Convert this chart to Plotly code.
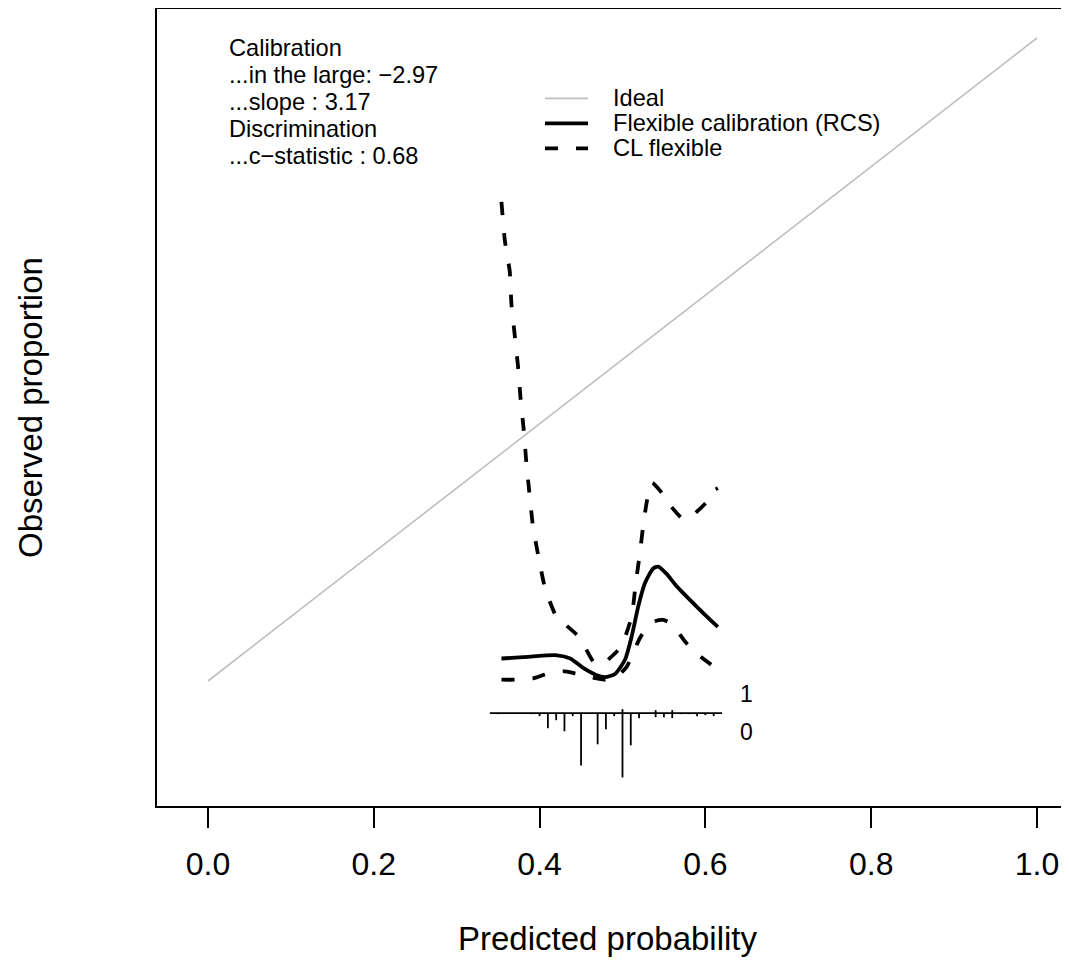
import plotly.graph_objects as go

# ---------------- data ----------------
ideal_x = [0.0, 1.0]
ideal_y = [0.0, 1.0]

rcs_x = [0.354, 0.380, 0.421, 0.437, 0.453, 0.469, 0.479, 0.491, 0.503, 0.511,
         0.519, 0.527, 0.537, 0.543, 0.553, 0.563, 0.573, 0.594, 0.615]
rcs_y = [0.035, 0.037, 0.040, 0.035, 0.020, 0.009, 0.006, 0.011, 0.033, 0.069,
         0.116, 0.152, 0.175, 0.178, 0.167, 0.151, 0.137, 0.110, 0.084]

cl_upper_x = [0.354, 0.358, 0.364, 0.366, 0.370, 0.374, 0.377, 0.381, 0.384, 0.388,
              0.392, 0.399, 0.407, 0.421, 0.427, 0.448, 0.465, 0.475, 0.498, 0.511,
              0.516, 0.521, 0.526, 0.532, 0.536, 0.551, 0.557, 0.573, 0.583, 0.602,
              0.610, 0.615]
cl_upper_y = [0.745, 0.686, 0.637, 0.587, 0.538, 0.489, 0.440, 0.389, 0.340, 0.289,
              0.240, 0.191, 0.142, 0.098, 0.092, 0.068, 0.030, 0.026, 0.053, 0.100,
              0.152, 0.199, 0.252, 0.297, 0.308, 0.287, 0.274, 0.252, 0.256, 0.279,
              0.296, 0.300]

cl_lower_x = [0.354, 0.370, 0.392, 0.409, 0.431, 0.445, 0.469, 0.479, 0.493, 0.505,
              0.522, 0.537, 0.549, 0.559, 0.577, 0.594, 0.615]
cl_lower_y = [0.002, 0.002, 0.004, 0.011, 0.015, 0.011, 0.004, 0.002, 0.007, 0.022,
              0.069, 0.092, 0.095, 0.089, 0.059, 0.038, 0.018]

# spike histogram of predicted probabilities (counts per 0.01 bin)
bin_x = [0.35, 0.39, 0.40, 0.41, 0.42, 0.43, 0.44, 0.45, 0.47, 0.48, 0.49,
         0.50, 0.51, 0.52, 0.54, 0.55, 0.56, 0.57, 0.58, 0.59, 0.60, 0.61]
n_y0 = [1, 1, 3, 15, 7, 18, 3, 52, 31, 16, 3, 64, 32, 5, 4, 4, 5, 1, 1, 3, 2, 3]
n_y1 = [0, 0, 0, 0, 0, 0, 0, 0, 0, 0, 0, 4, 0, 0, 3, 0, 3, 0, 0, 0, 0, 0]

x_ticks = [0.0, 0.2, 0.4, 0.6, 0.8, 1.0]
x_ticktext = ["0.0", "0.2", "0.4", "0.6", "0.8", "1.0"]

stats_lines = ["Calibration", "...in the large: \u22122.97", "...slope : 3.17",
               "Discrimination", "...c\u2212statistic : 0.68"]
legend_labels = ["Ideal", "Flexible calibration (RCS)", "CL flexible"]

line_bins = -0.05
hist_max = 0.1

# ---------------- figure ----------------
OFF = 8  # default page body margin
W, H = 1069 - OFF, 960 - OFF
ML, MR, MT, MB = 157 - OFF, 0, 9 - OFF, 154
PW, PH = W - ML - MR, H - MT - MB
FONT = "Liberation Sans, Arial, Helvetica, sans-serif"
DASH = "13px,18px"
LW = 3.8


def px_x(p):
    return (p - OFF - ML) / PW


def px_y(p):
    return (H - MB - (p - OFF)) / PH


fig = go.Figure()

fig.add_trace(go.Scatter(x=ideal_x, y=ideal_y, mode="lines",
                         line=dict(color="#BEBEBE", width=1.6), showlegend=False))
fig.add_trace(go.Scatter(x=rcs_x, y=rcs_y, mode="lines",
                         line=dict(color="black", width=LW, shape="spline", smoothing=0.6),
                         showlegend=False))
fig.add_trace(go.Scatter(x=cl_upper_x, y=cl_upper_y, mode="lines",
                         line=dict(color="black", width=LW, dash=DASH, shape="spline", smoothing=0.5),
                         showlegend=False))
fig.add_trace(go.Scatter(x=cl_lower_x, y=cl_lower_y, mode="lines",
                         line=dict(color="black", width=LW, dash=DASH, shape="spline", smoothing=0.6),
                         showlegend=False))

# spike histogram
maxf = max(max(n_y0), max(n_y1))
hx, hy = [], []
for b, c in zip(bin_x, n_y0):
    if c > 0:
        hx += [b, b, None]
        hy += [line_bins, line_bins - hist_max * c / maxf, None]
for b, c in zip(bin_x, n_y1):
    if c > 0:
        hx += [b, b, None]
        hy += [line_bins, line_bins + hist_max * c / maxf, None]
fig.add_trace(go.Scatter(x=hx, y=hy, mode="lines", line=dict(color="black", width=1.8),
                         showlegend=False))
fig.add_trace(go.Scatter(x=[min(bin_x) - 0.01, max(bin_x) + 0.01], y=[line_bins, line_bins],
                         mode="lines", line=dict(color="black", width=1.8), showlegend=False))

annotations = []
annotations.append(dict(x=max(bin_x) + 0.04, y=line_bins + 0.03, xref="x", yref="y",
                        text="1", showarrow=False, font=dict(size=23, color="black", family=FONT)))
annotations.append(dict(x=max(bin_x) + 0.04, y=line_bins - 0.03, xref="x", yref="y",
                        text="0", showarrow=False, font=dict(size=23, color="black", family=FONT)))

# statistics text
for i, t in enumerate(stats_lines):
    annotations.append(dict(x=px_x(227), y=px_y(48.4 + 26.9 * i), xref="paper", yref="paper",
                            text=t, showarrow=False, xanchor="left", yanchor="middle",
                            font=dict(size=23.6, color="black", family=FONT)))

# legend
shapes = []
leg_styles = [dict(color="#BEBEBE", width=1.6), dict(color="black", width=LW),
              dict(color="black", width=LW, dash=DASH)]
for i, (lab, st) in enumerate(zip(legend_labels, leg_styles)):
    yy = px_y(98.4 + 25 * i)
    shapes.append(dict(type="line", xref="paper", yref="paper", x0=px_x(545), x1=px_x(588),
                       y0=yy, y1=yy, line=st))
    annotations.append(dict(x=px_x(611), y=yy, xref="paper", yref="paper", text=lab,
                            showarrow=False, xanchor="left", yanchor="middle",
                            font=dict(size=23.6, color="black", family=FONT)))

# axis titles
annotations.append(dict(x=px_x(607), y=px_y(938), xref="paper", yref="paper",
                        text="Predicted probability", showarrow=False,
                        xanchor="center", yanchor="middle",
                        font=dict(size=33, color="black", family=FONT)))
annotations.append(dict(x=px_x(30), y=px_y(408), xref="paper", yref="paper",
                        text="Observed proportion", showarrow=False, textangle=-90,
                        xanchor="center", yanchor="middle",
                        font=dict(size=33, color="black", family=FONT)))

fig.update_layout(
    width=W, height=H,
    margin=dict(l=ML, r=MR, t=MT, b=MB, pad=0),
    paper_bgcolor="white", plot_bgcolor="white",
    showlegend=False,
    font=dict(family=FONT, color="black"),
    annotations=annotations,
    shapes=shapes,
    xaxis=dict(range=[-0.0615, 1.0386], showgrid=False, zeroline=False,
               showline=True, linecolor="black", linewidth=1.5, mirror=True,
               ticks="outside", ticklen=20, tickwidth=1.5, tickcolor="black",
               tickvals=x_ticks, ticktext=x_ticktext,
               tickfont=dict(size=32, color="black", family=FONT),
               ticklabelstandoff=9),
    yaxis=dict(range=[-0.1944, 1.0451], showgrid=False, zeroline=False,
               showline=True, linecolor="black", linewidth=1.5, mirror=False,
               ticks="", showticklabels=False),
)

fig.write_html("out.html")
